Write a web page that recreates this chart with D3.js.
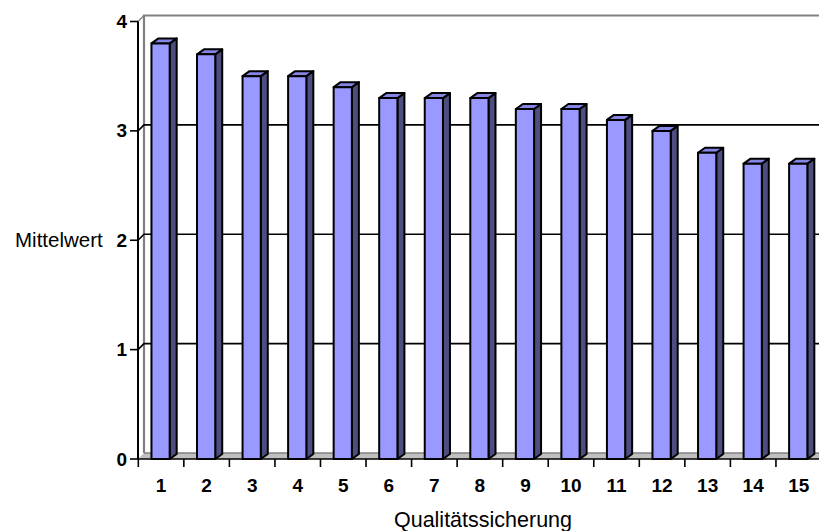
<!DOCTYPE html>
<html><head><meta charset="utf-8">
<script src="https://cdn.jsdelivr.net/npm/d3@7"></script>
<style>body{margin:0;background:#fff}svg{display:block}text{font-family:Arial,"Liberation Sans",sans-serif}</style>
</head><body><svg id="c" width="819" height="531"></svg>
<script>
const categories = ["1","2","3","4","5","6","7","8","9","10","11","12","13","14","15"];
const values = [3.8,3.7,3.5,3.5,3.4,3.3,3.3,3.3,3.2,3.2,3.1,3.0,2.8,2.7,2.7];
const yTicks = [0,1,2,3,4];
const yTitle = "Mittelwert";
const xTitle = "Qualitätssicherung";

const svg = d3.select("#c");
const DX = 6, DY = -6;      // wall depth offset
const BDX = 7, BDY = -5;    // bar depth offset
const x = d3.scaleBand().domain(categories).range([138.3, 821.5]);
const y = d3.scaleLinear().domain([0,4]).range([459, 21.5]);
const x0 = 138, xEnd = 830;

// floor
svg.append("path")
  .attr("d", `M${x0},${y(0)} L${x0+DX},${y(0)+DY} L${xEnd},${y(0)+DY} L${xEnd},${y(0)} Z`)
  .attr("fill", "#c0c0c0").attr("stroke", "none");
svg.append("line").attr("x1", x0+DX).attr("x2", xEnd).attr("y1", y(0)+DY).attr("y2", y(0)+DY)
  .attr("stroke", "#808080").attr("stroke-width", 1.5);
// back wall top & left edges
svg.append("path")
  .attr("d", `M${x0+DX},${y(0)+DY} L${x0+DX},${y(4)+DY} L${xEnd},${y(4)+DY}`)
  .attr("fill", "none").attr("stroke", "#808080").attr("stroke-width", 2.2);
// gridlines
yTicks.filter(t => t > 0 && t < 4).forEach(t => {
  svg.append("path")
    .attr("d", `M${x0},${y(t)} L${x0+DX},${y(t)+DY} L${xEnd},${y(t)+DY}`)
    .attr("fill", "none").attr("stroke", "#000").attr("stroke-width", 1.6);
});
svg.append("line").attr("x1", x0).attr("y1", y(4)).attr("x2", x0+DX).attr("y2", y(4)+DY)
  .attr("stroke", "#808080").attr("stroke-width", 1.5);
// front floor edge
svg.append("line").attr("x1", x0).attr("x2", xEnd).attr("y1", y(0)).attr("y2", y(0))
  .attr("stroke", "#000").attr("stroke-width", 1.6);

// bars
const bw = x.bandwidth() * 0.4;
const g = svg.append("g").attr("stroke", "#000").attr("stroke-width", 2).attr("stroke-linejoin", "round");
categories.forEach((c, i) => {
  const v = values[i];
  const xl = x(c) + x.bandwidth()*0.3 - 0.5, xr = xl + bw;
  const yt = y(v), yb = y(0);
  g.append("path").attr("fill", "#4d4d80")
    .attr("d", `M${xr},${yt} L${xr+BDX},${yt+BDY} L${xr+BDX},${yb+BDY} L${xr},${yb} Z`);
  g.append("path").attr("fill", "#8585e6")
    .attr("d", `M${xl},${yt} L${xl+BDX},${yt+BDY} L${xr+BDX},${yt+BDY} L${xr},${yt} Z`);
  g.append("rect").attr("fill", "#9999ff").attr("x", xl).attr("y", yt).attr("width", bw).attr("height", yb-yt);
});

// y axis
svg.append("line").attr("x1", x0).attr("x2", x0).attr("y1", y(0)).attr("y2", y(4))
  .attr("stroke", "#000").attr("stroke-width", 2);
const ya = svg.append("g");
yTicks.forEach(t => {
  ya.append("line").attr("x1", 130).attr("x2", x0).attr("y1", y(t)).attr("y2", y(t))
    .attr("stroke", "#000").attr("stroke-width", 1.6);
  ya.append("text").attr("x", 127).attr("y", y(t)+6.5).attr("text-anchor", "end")
    .attr("font-size", 19).attr("font-weight", "bold").text(t);
});
// x ticks
const xa = svg.append("g");
categories.forEach(c => {
  xa.append("line").attr("x1", x(c)).attr("x2", x(c)).attr("y1", y(0)).attr("y2", y(0)+8)
    .attr("stroke", "#000").attr("stroke-width", 1.6);
  xa.append("text").attr("x", x(c)+x.bandwidth()/2).attr("y", 492).attr("text-anchor", "middle")
    .attr("font-size", 19).attr("font-weight", "bold").text(c);
});
// titles
svg.append("text").attr("x", 15).attr("y", 247).attr("font-size", 20.5).text(yTitle);
svg.append("text").attr("x", 483).attr("y", 527).attr("text-anchor", "middle").attr("font-size", 21.5).text(xTitle);
</script></body></html>
